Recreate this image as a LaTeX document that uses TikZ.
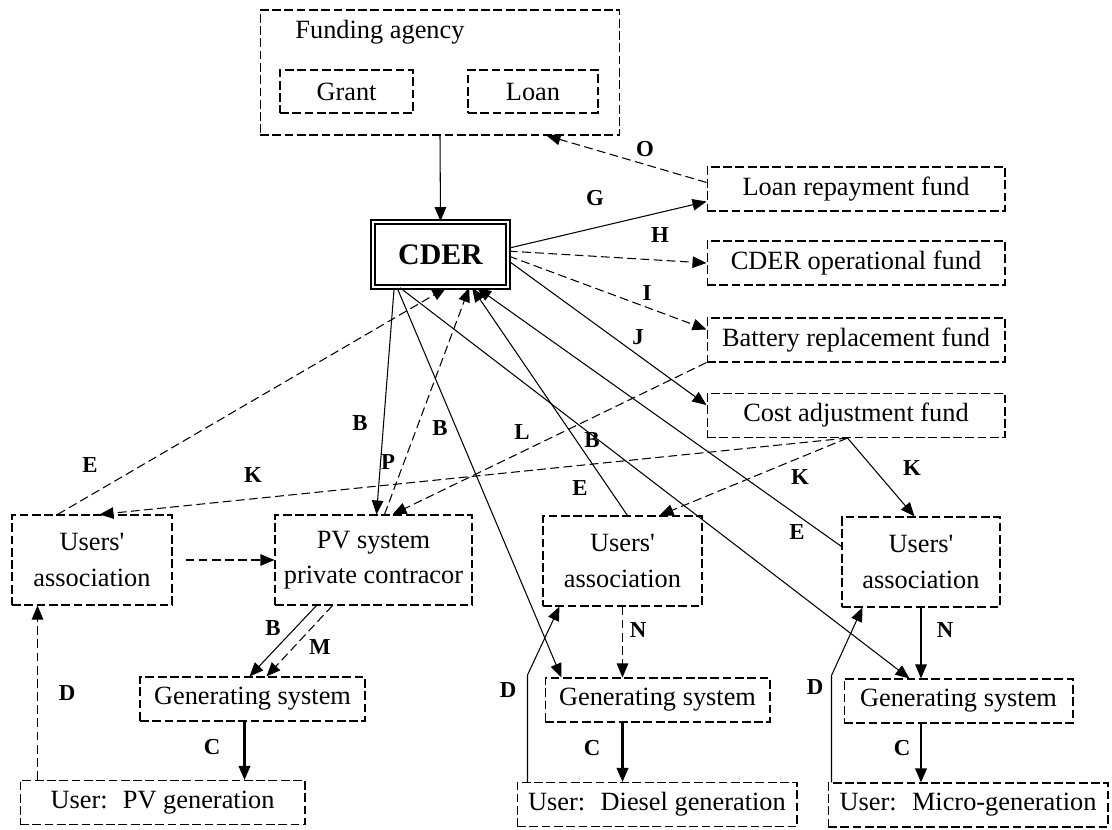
\documentclass[tikz,border=0pt]{standalone}
\usepackage{fontspec}
\setmainfont{Liberation Serif}
\usepackage{tikz}
\usetikzlibrary{arrows,arrows.meta,shapes,positioning,calc}
\tikzstyle{box} = [rectangle, draw, line width=0.6pt, dash pattern=on 5pt off 2pt, minimum height=0.88cm, inner sep=2pt, align=center, font=\fontsize{15}{20}\selectfont]
\tikzstyle{lbl} = [inner sep=1pt, font=\fontsize{13}{15}\selectfont\bfseries]
\tikzstyle{flow} = [->, >={Triangle[length=2.8mm,width=2.3mm]}, line width=0.6pt, solid]
\tikzstyle{dflow} = [flow, dash pattern=on 5pt off 2.5pt]

\begin{document}
\begin{tikzpicture}[x=0.02cm, y=-0.02cm]
\useasboundingbox (0,0) rectangle (1112,829);

% Funding agency
\node[box, minimum width=7.2cm, minimum height=2.5cm] (fund) at (440,72.5) {};
\node[inner sep=0pt, font=\fontsize{15}{18}\selectfont] (fundlbl) at (380,32) {Funding agency};
\node[box, minimum width=2.66cm, minimum height=0.86cm] (grant) at (346.5,91.5) {Grant};
\node[box, minimum width=2.6cm, minimum height=0.86cm] (loan) at (533,91.5) {Loan};

% CDER
\node[rectangle, draw, double, line width=1pt, double distance=1.6pt, minimum width=2.7cm, minimum height=1.3cm, font=\fontsize{17}{20}\selectfont\bfseries] (cder) at (440.5,254.5) {CDER};

% Funds
\node[box, minimum width=5.96cm] (repay) at (856,189) {Loan repayment fund};
\node[box, minimum width=5.96cm] (oper) at (856,263) {CDER operational fund};
\node[box, minimum width=5.96cm] (batt) at (856,340) {Battery replacement fund};
\node[box, minimum width=5.96cm] (cost) at (856,415.5) {Cost adjustment fund};

% Users' associations and contractor
\node[box, minimum width=3.2cm, minimum height=1.8cm] (ua1) at (92,560) {Users\textquotesingle\\association};
\node[box, minimum width=3.94cm, minimum height=1.8cm] (pvc) at (373.5,560) {PV system\\private contracor};
\node[box, minimum width=3.18cm, minimum height=1.8cm] (ua2) at (622.5,561) {Users\textquotesingle\\association};
\node[box, minimum width=3.16cm, minimum height=1.8cm] (ua3) at (921,562) {Users\textquotesingle\\association};

% Generating systems
\node[box, minimum width=4.5cm] (gen1) at (252.5,699) {Generating system};
\node[box, minimum width=4.5cm] (gen2) at (657.5,700) {Generating system};
\node[box, minimum width=4.58cm] (gen3) at (958.5,701) {Generating system};

% Users
\node[box, minimum width=5.7cm] (upv) at (162.5,802.5) {User:~ PV generation};
\node[box, minimum width=5.6cm] (udiesel) at (657,804.5) {User:~ Diesel generation};
\node[box, minimum width=5.6cm] (umicro) at (968,805) {User:~ Micro-generation};

% Funding and funds
\draw[flow] (fund.south) -- (cder.north);
\draw[dflow] ($(repay.north west)+(0,16)$) -- ($(fund.south west)+(287,0)$);
\draw[flow] ($(cder.north east)+(0,27)$) -- ($(repay.south west)+(0,-10)$);
\draw[dflow] ($(cder.north east)+(0,30)$) -- (oper.west);
\draw[dflow] ($(cder.north east)+(0,35)$) -- ($(batt.north west)+(0,12)$);
\draw[flow] ($(cder.north east)+(0,40)$) -- ($(cost.north west)+(0,12)$);

% CDER down to the sites
\draw[flow] ($(cder.south west)+(22,0)$) -- ($(pvc.north west)+(102,0)$);
\draw[flow] ($(cder.south west)+(25,0)$) -- ($(gen2.north west)+(17,0)$);
\draw[flow] ($(cder.south west)+(28,0)$) -- ($(gen3.north west)+(66,0)$);

% Sites up to CDER
\draw[dflow] ($(ua1.north west)+(46,0)$) -- ($(cder.south west)+(74,0)$);
\draw[dflow] ($(pvc.north west)+(110,0)$) -- ($(cder.south west)+(97,0)$);
\draw[flow] ($(ua2.north west)+(85,0)$) -- ($(cder.south west)+(100,0)$);
\draw[flow] ($(ua3.north west)+(0,30)$) -- ($(cder.south west)+(105,0)$);

% Funds to the sites
\draw[dflow] (batt.south west) -- ($(pvc.north west)+(118,0)$);
\draw[dflow] ($(cost.south west)+(141,0)$) -- ($(ua1.north west)+(88,0)$);
\draw[dflow] ($(cost.south west)+(141,0)$) -- ($(ua2.north west)+(117,0)$);
\draw[flow] ($(cost.south west)+(141,0)$) -- ($(ua3.north west)+(73,0)$);

% PV site
\draw[dflow, shorten <=0.26cm] (ua1.east) -- (pvc.west);
\draw[flow] ($(pvc.south west)+(42,0)$) -- ($(gen1.north west)+(110,0)$);
\draw[dflow] ($(pvc.south west)+(58,0)$) -- ($(gen1.north west)+(127,0)$);
\coordinate (c1) at ($(gen1.south west)+(105,0)$);
\draw[flow, line width=1.2pt] (c1) -- (c1 |- upv.north);
\coordinate (d1) at ($(upv.north west)+(18,0)$);
\draw[dflow] (d1) -- (d1 |- ua1.south);

% Diesel site
\draw[dflow] (ua2.south) -- (ua2.south |- gen2.north);
\draw[flow, line width=1.2pt] (ua2.south |- gen2.south) -- (ua2.south |- udiesel.north);
\draw[flow] ($(udiesel.north west)+(11,0)$) -- ++(0,-107) -- ($(ua2.south west)+(17,0)$);

% Micro-generation site
\draw[flow] (ua3.south) -- (ua3.south |- gen3.north);
\draw[flow, line width=1.2pt] (ua3.south |- gen3.south) -- (ua3.south |- umicro.north);
\draw[flow] ($(umicro.north west)+(4,0)$) -- ++(0,-107) -- ($(ua3.south west)+(21,0)$);

% Flow letters
\node[lbl] (lO) at (645,149) {O};
\node[lbl] (lG) at (595,198) {G};
\node[lbl] (lH) at (660,235) {H};
\node[lbl] (lI) at (647,293) {I};
\node[lbl] (lJ) at (638,337) {J};
\node[lbl] (lBa) at (360,423) {B};
\node[lbl] (lP) at (388,462) {P};
\node[lbl] (lBb) at (440,428) {B};
\node[lbl] (lL) at (522,432) {L};
\node[lbl] (lBc) at (592,440) {B};
\node[lbl] (lEb) at (580,488) {E};
\node[lbl] (lEa) at (90,465) {E};
\node[lbl] (lKa) at (253,475) {K};
\node[lbl] (lKb) at (800,477) {K};
\node[lbl] (lKc) at (912,468) {K};
\node[lbl] (lEc) at (797,532) {E};
\node[lbl] (lBd) at (273,628) {B};
\node[lbl] (lM) at (320,647) {M};
\node[lbl] (lDa) at (67,693) {D};
\node[lbl] (lCa) at (212,747) {C};
\node[lbl] (lNb) at (638,630) {N};
\node[lbl] (lDb) at (508,690) {D};
\node[lbl] (lCb) at (592,748) {C};
\node[lbl] (lNc) at (945,630) {N};
\node[lbl] (lDc) at (815,687) {D};
\node[lbl] (lCc) at (902,748) {C};
\end{tikzpicture}
\end{document}
